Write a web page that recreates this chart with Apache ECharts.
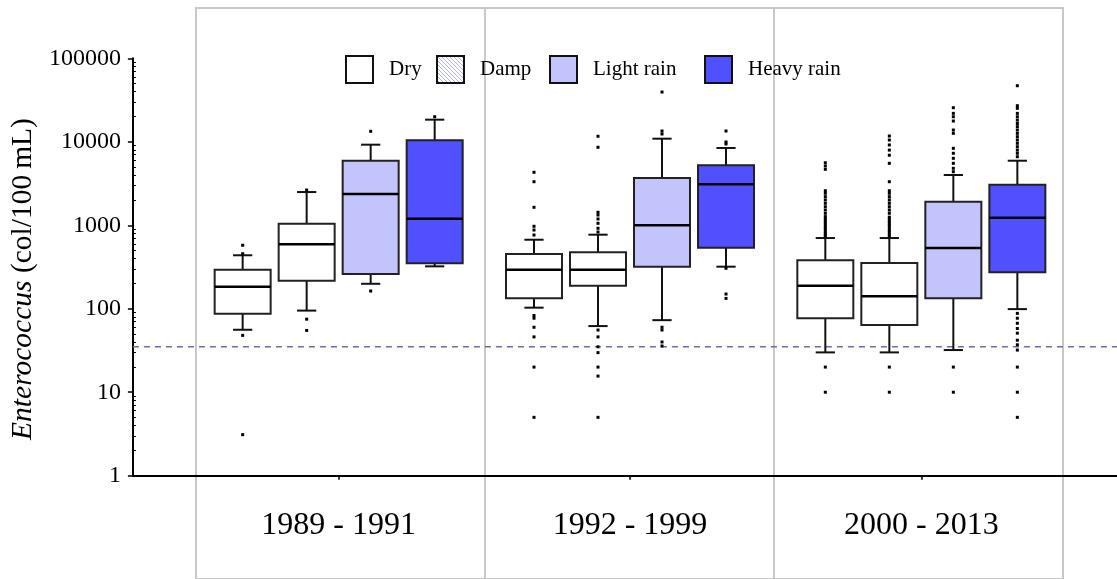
<!DOCTYPE html>
<html>
<head>
<meta charset="utf-8">
<script src="https://cdn.jsdelivr.net/npm/echarts@6/dist/echarts.min.js"></script>
<style>
html,body{margin:0;padding:0;background:#fff;}
#chart{width:1117px;height:579px;}
</style>
</head>
<body>
<div id="chart"></div>
<script>
// ---- data ----
const groups = ['1989 - 1991', '1992 - 1999', '2000 - 2013'];
const conditions = ['Dry', 'Damp', 'Light rain', 'Heavy rain'];
const yTicks = [1, 10, 100, 1000, 10000, 100000];
const threshold = 35;

// box stats per group: [lowWhisker, Q1, median, Q3, highWhisker]
const dryBox   = [[56, 87, 184, 294, 437], [103, 134, 294, 453, 671], [30, 77, 189, 380, 703]];
const dampBox  = [[95, 217, 591, 1044, 2500], [62, 189, 294, 475, 771], [30, 64, 141, 353, 703]];
const lightBox = [[199, 261, 2368, 5940, 9230], [73, 319, 1000, 3683, 10890], [32, 134, 534, 1915, 4000]];
const heavyBox = [[322, 350, 1199, 10420, 18400], [319, 538, 3092, 5226, 8430], [99, 273, 1231, 3062, 5930]];

// outliers: [groupIndex, value]
const dryOut = [
  [0, 576], [0, 456], [0, 48], [0, 3.1],
  [1, 4310], [1, 3325], [1, 1641], [1, 972], [1, 877], [1, 764], [1, 83], [1, 77], [1, 60], [1, 46], [1, 20], [1, 5],
  [2, 5610], [2, 5130], [2, 4680], [2, 2594], [2, 2415], [2, 2200], [2, 2010], [2, 1833], [2, 1668], [2, 1523], [2, 1390],
  [2, 1270], [2, 1200], [2, 1130], [2, 1070], [2, 1010], [2, 950], [2, 900], [2, 850], [2, 800], [2, 760], [2, 730],
  [2, 20], [2, 10]
];
const dampOut = [
  [0, 2644], [0, 75], [0, 55],
  [1, 11640], [1, 8590], [1, 1430], [1, 1327], [1, 1189], [1, 1055], [1, 920], [1, 830],
  [1, 55.6], [1, 46], [1, 35], [1, 29.8], [1, 20], [1, 15.6], [1, 5],
  [2, 11730], [2, 10500], [2, 9160], [2, 7950], [2, 6900], [2, 5520], [2, 3325],
  [2, 2594], [2, 2415], [2, 2200], [2, 2010], [2, 1833], [2, 1668], [2, 1523], [2, 1390],
  [2, 1250], [2, 1180], [2, 1110], [2, 1050], [2, 990], [2, 930], [2, 870], [2, 820], [2, 770], [2, 730],
  [2, 20], [2, 10]
];
const lightOut = [
  [0, 13340], [0, 163],
  [1, 39450], [1, 13460], [1, 12390], [1, 60], [1, 55.6], [1, 40], [1, 35.8],
  [2, 25600], [2, 21900], [2, 19950], [2, 17730], [2, 13830], [2, 12620],
  [2, 8350], [2, 7280], [2, 6340], [2, 5520], [2, 4810], [2, 4380], [2, 20], [2, 10]
];
const heavyOut = [
  [0, 19950],
  [1, 13460], [1, 9940], [1, 9400], [1, 305], [1, 150], [1, 133],
  [2, 46950], [2, 27050], [2, 25160], [2, 21900], [2, 19950], [2, 18180], [2, 16560], [2, 15170], [2, 13830],
  [2, 12620], [2, 11510], [2, 10500], [2, 9590], [2, 8730], [2, 7950], [2, 7280], [2, 6620],
  [2, 88], [2, 77], [2, 67], [2, 58], [2, 51], [2, 42], [2, 37], [2, 32], [2, 20], [2, 10], [2, 5]
];

// ---- rendering ----
const FONT = '"Liberation Serif", "DejaVu Serif", serif';
const boxSets = [dryBox, dampBox, lightBox, heavyBox];
const outSets = [dryOut, dampOut, lightOut, heavyOut];

function hatchCanvas() {
  const c = document.createElement('canvas');
  c.width = 4; c.height = 4;
  const g = c.getContext('2d');
  g.fillStyle = '#ffffff'; g.fillRect(0, 0, 4, 4);
  g.fillStyle = '#b4b4f6';
  for (let i = 0; i < 4; i++) g.fillRect(i, i, 1, 1);
  return c;
}
const fills = ['#ffffff', '#ffffff', '#c4c4fd', '#5050ff'];
const legendFills = ['#ffffff', { image: hatchCanvas(), repeat: 'repeat' }, '#c4c4fd', '#5050ff'];

const STEP = 0.2197, BOXW = 0.1922, CAPW = 0.066;

function boxRenderer(k) {
  return function (params, api) {
    const bw = api.size([1, 1], [0, 10])[0];
    const gi = api.value(0);
    const cx = api.coord([gi, 10])[0] + (k - 1.5) * STEP * bw;
    const w = BOXW * bw, cap = CAPW * bw;
    const yLow = api.coord([gi, api.value(1)])[1];
    const yQ1 = api.coord([gi, api.value(2)])[1];
    const yMed = api.coord([gi, api.value(3)])[1];
    const yQ3 = api.coord([gi, api.value(4)])[1];
    const yHigh = api.coord([gi, api.value(5)])[1];
    const ls = { stroke: '#111', lineWidth: 2 };
    return {
      type: 'group',
      children: [
        { type: 'line', shape: { x1: cx, y1: yQ3, x2: cx, y2: yHigh }, style: ls },
        { type: 'line', shape: { x1: cx, y1: yQ1, x2: cx, y2: yLow }, style: ls },
        { type: 'line', shape: { x1: cx - cap / 2, y1: yHigh, x2: cx + cap / 2, y2: yHigh }, style: ls },
        { type: 'line', shape: { x1: cx - cap / 2, y1: yLow, x2: cx + cap / 2, y2: yLow }, style: ls },
        { type: 'rect', shape: { x: cx - w / 2, y: yQ3, width: w, height: yQ1 - yQ3 },
          style: { fill: fills[k], stroke: '#222', lineWidth: 2 } },
        { type: 'line', shape: { x1: cx - w / 2, y1: yMed, x2: cx + w / 2, y2: yMed },
          style: { stroke: '#000', lineWidth: 2.5 } }
      ]
    };
  };
}
function outRenderer(k) {
  return function (params, api) {
    const bw = api.size([1, 1], [0, 10])[0];
    const gi = api.value(0);
    const cx = api.coord([gi, 10])[0] + (k - 1.5) * STEP * bw;
    const y = api.coord([gi, api.value(1)])[1];
    return { type: 'rect', shape: { x: cx - 1.5, y: y - 1.5, width: 3, height: 3 }, style: { fill: '#000' } };
  };
}

const series = [];
// dashed threshold line across the full axis grid
series.push({
  type: 'line', xAxisIndex: 0, yAxisIndex: 0, silent: true, symbol: 'none',
  data: [[0, threshold], [1, threshold]],
  lineStyle: { color: '#6e6ea0', width: 1.5, type: [6, 5] }, z: 1
});
conditions.forEach(function (name, k) {
  series.push({
    type: 'custom', name: name, xAxisIndex: 1, yAxisIndex: 1,
    renderItem: boxRenderer(k),
    data: boxSets[k].map(function (b, gi) { return [gi].concat(b); }),
    encode: { x: 0, y: [1, 2, 3, 4, 5] }, z: 3
  });
  series.push({
    type: 'custom', name: name, xAxisIndex: 1, yAxisIndex: 1,
    renderItem: outRenderer(k),
    data: outSets[k],
    encode: { x: 0, y: 1 }, z: 4
  });
});

const legendLefts = [345, 436, 549, 704];
const legends = conditions.map(function (name, k) {
  return {
    left: legendLefts[k], top: 55, padding: 0,
    itemWidth: 27, itemHeight: 27, selectedMode: false,
    textStyle: { fontFamily: FONT, fontSize: 21, color: '#000', padding: [0, 0, 0, 11] },
    data: [{ name: name, icon: 'rect',
      itemStyle: { color: legendFills[k], borderColor: '#111', borderWidth: 2 } }]
  };
});

const chart = echarts.init(document.getElementById('chart'), null, { renderer: 'canvas' });
chart.setOption({
  backgroundColor: '#ffffff',
  animation: false,
  legend: legends,
  grid: [
    { left: 131, right: 0, top: 58.3, bottom: 103.3 },
    { left: 193, right: 50, top: 58.3, bottom: 103.3 },
    { left: 196, right: 54, top: 8, bottom: 0, show: true, borderColor: '#c8c8c8', borderWidth: 2, backgroundColor: 'transparent', z: 0 }
  ],
  xAxis: [
    { gridIndex: 0, type: 'value', min: 0, max: 1,
      axisLine: { show: true, onZero: false, lineStyle: { color: '#000', width: 2 } },
      axisTick: { show: false }, axisLabel: { show: false }, splitLine: { show: false } },
    { gridIndex: 1, type: 'category', data: groups,
      axisLine: { show: false },
      axisTick: { show: true, alignWithLabel: true, length: 4, lineStyle: { color: '#000', width: 1.5 } },
      axisLabel: { fontFamily: FONT, fontSize: 32, color: '#000', margin: 34 },
      splitLine: { show: false } },
    { gridIndex: 2, type: 'category', data: groups,
      axisLine: { show: false }, axisTick: { show: false }, axisLabel: { show: false },
      splitLine: { show: true, lineStyle: { color: '#c8c8c8', width: 2 } } }
  ],
  yAxis: [
    { gridIndex: 0, type: 'log', logBase: 10, min: yTicks[0], max: yTicks[yTicks.length - 1],
      name: '{i|Enterococcus} (col/100\u2009mL)',
      nameLocation: 'middle', nameGap: 78, nameRotate: 90,
      nameTextStyle: { fontFamily: FONT, fontSize: 29.5, color: '#000', padding: [0, 24, 0, 0],
        rich: { i: { fontFamily: FONT, fontSize: 29.5, fontStyle: 'italic', color: '#000' } } },
      axisLine: { show: true, lineStyle: { color: '#000', width: 2 } },
      axisTick: { show: true, length: 5, lineStyle: { color: '#000', width: 1.5 } },
      minorTick: { show: true, splitNumber: 9, length: -3, lineStyle: { color: '#000', width: 1 } },
      axisLabel: { fontFamily: FONT, fontSize: 24, color: '#000', margin: 12,
        formatter: function (v) { return String(v); } },
      splitLine: { show: false } },
    { gridIndex: 1, type: 'log', logBase: 10, min: yTicks[0], max: yTicks[yTicks.length - 1], show: false },
    { gridIndex: 2, type: 'value', show: false }
  ],
  series: series
});
</script>
</body>
</html>
